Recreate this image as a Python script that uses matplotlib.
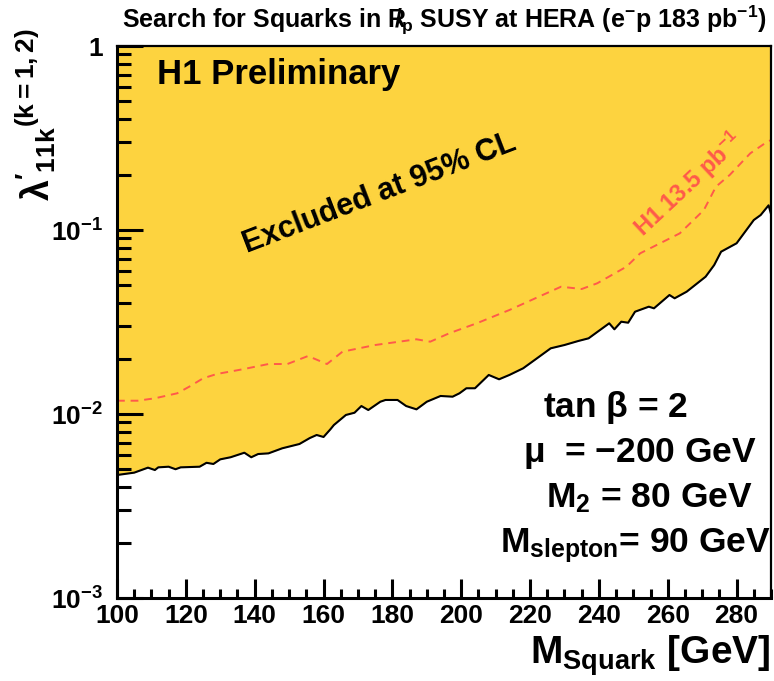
import numpy as np
import matplotlib
matplotlib.use("Agg")
import matplotlib.pyplot as plt
from matplotlib.ticker import FixedLocator, MultipleLocator, LogLocator, NullFormatter

plt.rcParams['font.family'] = ['Liberation Sans', 'DejaVu Sans']
plt.rcParams['font.weight'] = 'bold'
plt.rcParams['mathtext.fontset'] = 'custom'
plt.rcParams['mathtext.rm'] = 'Liberation Sans:bold'
plt.rcParams['mathtext.bf'] = 'Liberation Sans:bold'
plt.rcParams['mathtext.it'] = 'Liberation Sans:bold'
plt.rcParams['mathtext.default'] = 'bf'

# excluded region boundary (H1 preliminary, 183 pb^-1)
m_limit = [100, 105, 109, 111, 112, 115, 117, 118.5, 124, 126, 128, 130, 133, 137, 139,
           141, 144, 148, 153, 156, 158, 160, 162, 163, 166.5, 169, 171, 173, 176.5, 178,
           181.5, 184, 187, 190, 194, 197.5, 199.5, 201.5, 204, 208, 211, 214, 218, 222,
           226, 230, 234, 237, 239, 243, 244.5, 246.5, 248.5, 250.5, 254.5, 256, 260.5,
           262, 265.5, 271, 273.5, 275.5, 280, 285, 287, 289.3, 290]
lam_limit = [0.00466, 0.0048, 0.00511, 0.00496, 0.00513, 0.00517, 0.00501, 0.00513,
             0.00517, 0.00543, 0.00535, 0.00567, 0.00582, 0.00616, 0.00582, 0.00606,
             0.00611, 0.00651, 0.00687, 0.0074, 0.00769, 0.0075, 0.00826, 0.00871,
             0.00988, 0.01016, 0.01105, 0.01051, 0.01166, 0.01192, 0.01192, 0.01105,
             0.0106, 0.01166, 0.01253, 0.01242, 0.01296, 0.0138, 0.0138, 0.0163, 0.01544,
             0.0163, 0.01772, 0.02007, 0.02275, 0.02371, 0.02493, 0.02578, 0.02745,
             0.03111, 0.02886, 0.03174, 0.03134, 0.03597, 0.0383, 0.03753, 0.04433,
             0.04254, 0.04621, 0.05574, 0.06452, 0.07621, 0.08468, 0.1133, 0.1206,
             0.1362, 0.1222]

# earlier H1 limit, 13.5 pb^-1
m_old = [100, 106, 111, 117.5, 121, 125, 129, 136.5, 144, 149.5, 155.5, 161, 165.5, 175,
         187, 191, 196.5, 204.5, 214, 223, 229, 235, 239.5, 248, 252, 263.5, 270.5, 274,
         278, 284, 288.5, 290]
lam_old = [0.01181, 0.01181, 0.01217, 0.01296, 0.01408, 0.01563, 0.0165, 0.0175,
           0.01869, 0.01869, 0.02066, 0.01869, 0.02181, 0.02371, 0.02547, 0.02472,
           0.02745, 0.03111, 0.03674, 0.04378, 0.04918, 0.04778, 0.05132, 0.06316,
           0.0747, 0.0959, 0.1284, 0.1719, 0.1991, 0.2612, 0.2982, 0.3083]

y_ticks = [1e-3, 1e-2, 1e-1, 1]
y_ticklabels = [r'$10^{-3}$', r'$10^{-2}$', r'$10^{-1}$', '1']

W, H = 774, 681
fig = plt.figure(figsize=(W / 100, H / 100), dpi=100)
ax = fig.add_axes([117 / W, 83 / H, 654 / W, 552 / H])

def fx(px):
    return px / W

def fy(py):
    return 1 - py / H

yellow = '#fdd33f'
red = '#ff5a4a'

ax.fill_between(m_limit, lam_limit, 1.0, color=yellow, lw=0, zorder=1)
ax.plot(m_limit, lam_limit, color='black', lw=1.5, zorder=3)
ax.plot(m_old, lam_old, color=red, lw=1.4, ls=(0, (4, 3)), zorder=2)

ax.set_yscale('log')
ax.set_xlim(100, 290)
ax.set_ylim(1e-3, 1)

ax.yaxis.set_major_locator(FixedLocator(y_ticks))
ax.set_yticklabels(y_ticklabels)
ax.yaxis.set_minor_locator(LogLocator(base=10, subs=np.arange(2, 10)))
ax.yaxis.set_minor_formatter(NullFormatter())
ax.xaxis.set_major_locator(MultipleLocator(20))
ax.xaxis.set_minor_locator(MultipleLocator(5))

ax.tick_params(which='both', direction='in', top=False, right=False)
ax.tick_params(axis='y', which='major', length=19, width=2.2, labelsize=19, pad=10)
ax.tick_params(axis='y', which='minor', length=10, width=2.2)
ax.tick_params(axis='x', which='major', length=14, width=2.2, labelsize=19, pad=4)
ax.tick_params(axis='x', which='minor', length=6.5, width=2.2)
for s in ['left', 'bottom']:
    ax.spines[s].set_linewidth(2.2)
for s in ['top', 'right']:
    ax.spines[s].set_linewidth(1.6)
for s in ax.spines.values():
    s.set_zorder(5)

fig.text(0.5 * (fx(117) + fx(771)), fy(20),
         r'Search for Squarks in $R\!\!\!/_{p}$ SUSY at HERA (e$^{-}$p 183 pb$^{-1}$)',
         ha='center', va='center', fontsize=18)

fig.text(fx(36), fy(28), r"$\lambda'_{11k}{}^{(k=1,2)}$", rotation=90,
         ha='center', va='top', fontsize=27)

fig.text(fx(770), fy(664), r'M$_{Squark}$ [GeV]', ha='right', va='baseline', fontsize=28)

fig.text(fx(157), fy(84), 'H1 Preliminary', ha='left', va='baseline', fontsize=25)
fig.text(fx(380), fy(194), 'Excluded at 95% CL', rotation=21, ha='center', va='center',
         fontsize=22)
fig.text(fx(688), fy(185), r'H1 13.5 pb$^{-1}$', rotation=43, ha='center', va='center',
         fontsize=17, color=red)

fig.text(fx(543), fy(417), r'tan $\beta$ = 2', ha='left', va='baseline', fontsize=25.5)
fig.text(fx(523), fy(462), r'$\mu$  = $-$200 GeV', ha='left', va='baseline', fontsize=25.5)
fig.text(fx(546), fy(507), r'M$_{2}$ = 80 GeV', ha='left', va='baseline', fontsize=25.5)
fig.text(fx(500), fy(552), r'M$_{slepton}$= 90 GeV', ha='left', va='baseline', fontsize=25.5)

fig.savefig('out.png', dpi=100)
